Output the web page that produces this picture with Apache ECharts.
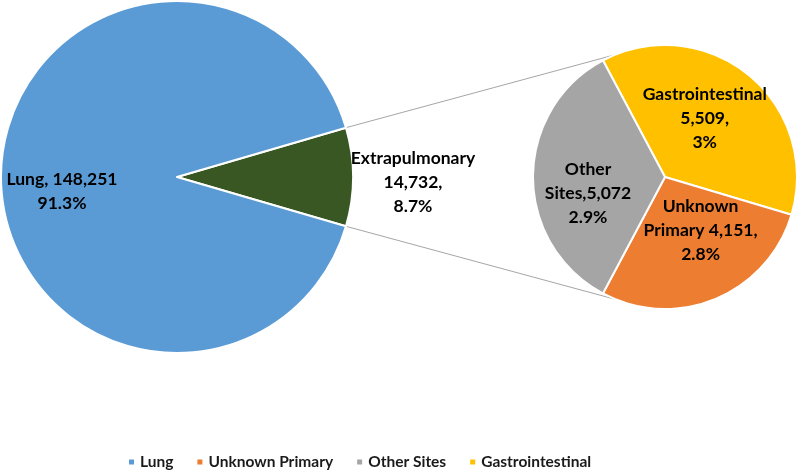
<!DOCTYPE html>
<html>
<head>
<meta charset="utf-8">
<script src="https://cdn.jsdelivr.net/npm/echarts@6/dist/echarts.min.js"></script>
<style>html,body{margin:0;padding:0;background:#fff;}#main{width:800px;height:471px;}</style>
</head>
<body>
<div id="main"></div>
<script>
// ---- data ----
var mainNames = ['Extrapulmonary', 'Lung'];
var mainValues = [14732, 148251];
var mainLabels = ['Extrapulmonary\n14,732,\n8.7%', 'Lung, 148,251\n91.3%'];
var subNames = ['Gastrointestinal', 'Unknown Primary', 'Other Sites'];
var subValues = [5509, 4151, 5072];
var subLabels = ['Gastrointestinal\n5,509,\n3%', 'Unknown\nPrimary 4,151,\n2.8%', 'Other\nSites,5,072\n2.9%'];
var legendNames = ['Lung', 'Unknown Primary', 'Other Sites', 'Gastrointestinal'];

// ---- layout ----
var C1 = [177, 177], R1 = 176;
var C2 = [665, 177], R2 = 132;
var colors = {
  'Lung': '#5B9BD5', 'Extrapulmonary': '#385723',
  'Unknown Primary': '#ED7D31', 'Other Sites': '#A5A5A5', 'Gastrointestinal': '#FFC000'
};
var mainTotal = mainValues[0] + mainValues[1];
var halfAng = 180 * mainValues[0] / mainTotal; // half of wedge angle in degrees
var subStart = 118;
var connAng = 112;

var labelOffsets = {
  'Lung': [-24, 14], 'Extrapulmonary': [145, 5],
  'Gastrointestinal': [-4, -5], 'Unknown Primary': [9, -10], 'Other Sites': [-8, 16]
};

function rad(d) { return d * Math.PI / 180; }
var p1 = [C1[0] + R1 * Math.cos(rad(halfAng)), C1[1] - R1 * Math.sin(rad(halfAng))];
var p2 = [C1[0] + R1 * Math.cos(rad(halfAng)), C1[1] + R1 * Math.sin(rad(halfAng))];
var q1 = [C2[0] + R2 * Math.cos(rad(connAng)), C2[1] - R2 * Math.sin(rad(connAng))];
var q2 = [C2[0] + R2 * Math.cos(rad(connAng)), C2[1] + R2 * Math.sin(rad(connAng))];

var labelStyle = {
  show: true, position: 'inside', color: '#000', fontFamily: 'Lato',
  fontWeight: 'bold', fontSize: 17.5, lineHeight: 24, align: 'center'
};

function mk(names, values, labels) {
  return names.map(function (n, i) {
    return { name: n, value: values[i], itemStyle: { color: colors[n] },
      label: { formatter: labels[i] } };
  });
}

var chart = echarts.init(document.getElementById('main'), null, { renderer: 'canvas' });
chart.setOption({
  animation: false,
  backgroundColor: '#fff',
  legend: {
    data: legendNames,
    left: 122, top: 449,
    icon: 'rect', itemWidth: 7, itemHeight: 7, itemGap: 22,
    textStyle: { fontFamily: 'Lato', fontWeight: 'bold', fontSize: 15.5, color: '#1a1a1a' },
    selectedMode: false
  },
  graphic: [
    { type: 'line', shape: { x1: p1[0], y1: p1[1], x2: q1[0], y2: q1[1] },
      style: { stroke: '#A6A6A6', lineWidth: 1 }, z: 0 },
    { type: 'line', shape: { x1: p2[0], y1: p2[1], x2: q2[0], y2: q2[1] },
      style: { stroke: '#A6A6A6', lineWidth: 1 }, z: 0 }
  ],
  series: [
    {
      type: 'pie', center: C1, radius: R1, startAngle: halfAng, clockwise: true,
      avoidLabelOverlap: false, silent: true,
      itemStyle: { borderColor: '#fff', borderWidth: 2 },
      label: labelStyle, labelLine: { show: false },
      labelLayout: function (p) { var o = labelOffsets[mainNames[p.dataIndex]]; return { dx: o[0], dy: o[1] }; },
      data: mk(mainNames, mainValues, mainLabels)
    },
    {
      type: 'pie', center: C2, radius: R2, startAngle: subStart, clockwise: true,
      avoidLabelOverlap: false, silent: true,
      itemStyle: { borderColor: '#fff', borderWidth: 2 },
      label: labelStyle, labelLine: { show: false },
      labelLayout: function (p) { var o = labelOffsets[subNames[p.dataIndex]]; return { dx: o[0], dy: o[1] }; },
      data: mk(subNames, subValues, subLabels)
    }
  ]
});
</script>
</body>
</html>
